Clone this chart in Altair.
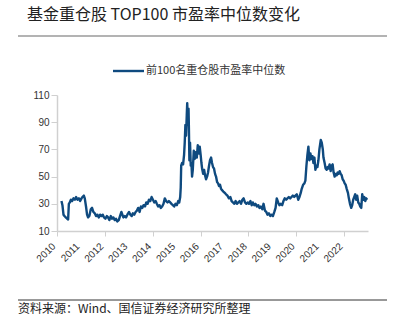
import altair as alt
import pandas as pd

title_text = "基金重仓股 TOP100 市盈率中位数变化"
legend_text = "前100名重仓股市盈率中位数"
source_text = "资料来源：Wind、国信证券经济研究所整理"
year_ticks = [f"{y}-01-01" for y in range(2010, 2024)]
year_labels = [str(y) for y in range(2010, 2023)]
y_ticks = [10, 30, 50, 70, 90, 110]

dates = [
    "2010-03-10","2010-03-25","2010-04-10","2010-04-25","2010-05-15","2010-06-05","2010-06-20","2010-07-01","2010-07-15","2010-08-01","2010-08-20","2010-09-10","2010-10-01","2010-10-20","2010-11-10","2010-12-01","2010-12-20",
    "2011-01-10","2011-01-25","2011-02-15","2011-03-01","2011-03-20","2011-04-05","2011-04-20","2011-05-10","2011-06-01","2011-06-20","2011-07-10","2011-08-01","2011-08-20","2011-09-10","2011-10-01","2011-10-20","2011-11-10","2011-12-01","2011-12-20",
    "2012-01-10","2012-02-01","2012-02-20","2012-03-10","2012-04-01","2012-04-20","2012-05-10","2012-06-01","2012-06-20","2012-07-10","2012-08-01","2012-08-20","2012-09-10","2012-09-25","2012-10-10","2012-11-01","2012-11-20","2012-12-10",
    "2013-01-05","2013-01-25","2013-02-15","2013-03-05","2013-03-25","2013-04-15","2013-05-05","2013-05-25","2013-06-15","2013-07-05","2013-07-25","2013-08-15","2013-09-05","2013-09-25","2013-10-15","2013-11-05","2013-11-25","2013-12-15",
    "2014-01-05","2014-01-25","2014-02-15","2014-03-05","2014-03-25","2014-04-15","2014-05-05","2014-05-25","2014-06-15","2014-07-05","2014-07-25","2014-08-15","2014-09-05","2014-09-25","2014-10-15","2014-11-05","2014-11-25","2014-12-15",
    "2015-01-05","2015-01-25","2015-02-10","2015-02-25","2015-03-05","2015-03-12","2015-03-25","2015-04-10","2015-04-25","2015-05-05","2015-05-15","2015-05-25","2015-06-05","2015-06-12","2015-06-18","2015-06-25","2015-07-02","2015-07-08","2015-07-15","2015-07-25","2015-08-05","2015-08-15","2015-08-25","2015-09-05","2015-09-20","2015-10-05","2015-10-20","2015-11-05","2015-11-20","2015-12-05","2015-12-20",
    "2016-01-05","2016-01-15","2016-01-25","2016-02-10","2016-02-25","2016-03-10","2016-03-25","2016-04-10","2016-04-25","2016-05-10","2016-05-25","2016-06-10","2016-06-25","2016-07-10","2016-07-25","2016-08-10","2016-08-25","2016-09-10","2016-09-25","2016-10-10","2016-10-25","2016-11-10","2016-11-25","2016-12-15",
    "2017-01-05","2017-01-25","2017-02-15","2017-03-10","2017-04-01","2017-04-20","2017-05-10","2017-06-01","2017-06-20","2017-07-10","2017-08-01","2017-08-20","2017-09-10","2017-10-01","2017-10-20","2017-11-10","2017-12-01","2017-12-20",
    "2018-01-10","2018-02-01","2018-02-20","2018-03-10","2018-04-01","2018-04-20","2018-05-10","2018-06-01","2018-06-20","2018-07-10","2018-08-01","2018-08-20","2018-09-10","2018-10-01","2018-10-20","2018-11-10","2018-12-01","2018-12-20",
    "2019-01-10","2019-02-01","2019-02-20","2019-03-10","2019-04-01","2019-04-20","2019-05-10","2019-06-01","2019-06-20","2019-07-10","2019-08-01","2019-08-20","2019-09-10","2019-10-01","2019-10-20","2019-11-10","2019-12-01","2019-12-20",
    "2020-01-10","2020-02-01","2020-02-20","2020-03-10","2020-03-25","2020-04-15","2020-05-05","2020-05-20","2020-06-05","2020-06-20","2020-07-05","2020-07-20","2020-08-05","2020-08-20","2020-09-05","2020-09-20","2020-10-05","2020-10-20","2020-11-05","2020-11-20","2020-12-05","2020-12-20",
    "2021-01-10","2021-01-25","2021-02-10","2021-02-20","2021-03-10","2021-03-25","2021-04-10","2021-04-25","2021-05-10","2021-05-25","2021-06-10","2021-06-25","2021-07-10","2021-07-25","2021-08-10","2021-08-25","2021-09-10","2021-09-25","2021-10-10","2021-10-25","2021-11-10","2021-11-25","2021-12-10","2021-12-25",
    "2022-01-10","2022-01-25","2022-02-10","2022-03-01","2022-03-15","2022-04-01","2022-04-20","2022-05-05","2022-05-20","2022-06-05","2022-06-20","2022-07-05","2022-07-20","2022-08-05","2022-08-20","2022-09-05","2022-09-20","2022-10-05","2022-10-20","2022-11-05","2022-11-20","2022-12-05","2022-12-20",
]
values = [
    32,29,22,21,20,19,18.5,30,31,33,32,34,33,35,33,34,32,
    34,35,36,34,28,22,20,21,26,27,24,23,21,22,20,22,21,22,20,
    19,21,20,18,21,19,20,18,19,17,18,21,24,22,20,21,20,22,
    24,22,21,23,22,24,25,27,24,28,27,29,28,31,30,33,32,35,
    33,31,32,30,28,29,27,28,30,34,32,31,32,31,30,29,28,30,
    29,32,31,35,42,58,60,59,66,75,88,80,95,104,96,88,100,85,62,75,58,60,50,55,69,63,68,64,73,67,72,
    65,60,56,52,55,51,48,50,53,58,62,64,60,57,56,52,50,46,45,43,44,41,40,39,
    38,37,36,34,35,32,31,30,32,30,31,32,30,33,34,31,30,31,
    30,32,29,31,29,30,28,29,27,28,26,30,25,24,22,23,21,22,
    21,24,27,34,31,29,30,29,32,34,33,34,35,34,35,36,35,36,
    37,33,35,38,41,44,45,47,58,66,72,62,67,63,65,60,64,55,58,57,62,70,
    77,75,70,64,60,56,55,57,56,59,54,58,59,53,50,52,51,53,52,54,52,51,48,47,
    45,44,41,38,34,30,27,29,33,35,37,33,36,31,30,28,27,37,33,35,32,34,33,
]

df = pd.DataFrame({"date": pd.to_datetime(dates), "pe": values})
lab_df = pd.DataFrame({"date": pd.to_datetime([f"{y}-01-01" for y in year_labels]),
                       "label": year_labels})

W, H = 311, 136
PL, PT = 57, 95
CJK = "Noto Sans CJK SC"
NUM = "Liberation Sans"
xscale = alt.Scale(domain=["2010-01-01", "2023-01-01"], nice=False)

line = alt.Chart(df).mark_line(color="#0f4a7f", strokeWidth=2.4, strokeJoin="round").encode(
    x=alt.X("date:T", scale=xscale,
            axis=alt.Axis(values=year_ticks, title=None, grid=False, labels=False,
                          tickSize=5, tickColor="#d0d0d0",
                          domainColor="#d0d0d0", domainWidth=1.5)),
    y=alt.Y("pe:Q",
            scale=alt.Scale(domain=[10, 110], nice=False, zero=False),
            axis=alt.Axis(values=y_ticks, title=None, grid=False,
                          labelFont=NUM, labelFontSize=10, labelColor="#333333",
                          labelPadding=2, tickSize=6, tickColor="#d0d0d0",
                          domainColor="#d0d0d0", domainWidth=1.5)),
)

xlabels = alt.Chart(lab_df).mark_text(
    angle=315, align="right", baseline="middle", font=NUM, fontSize=10,
    color="#333333", dx=-4
).encode(x=alt.X("date:T", scale=xscale), y=alt.value(H + 11), text="label:N")

def txt(s, x, y, size, font, color="#222222", align="left"):
    return alt.Chart(pd.DataFrame({"t": [s]})).mark_text(
        align=align, baseline="middle", font=font, fontSize=size, color=color
    ).encode(text="t:N", x=alt.value(x), y=alt.value(y))

def rule(x1, x2, y, color, width):
    return alt.Chart(pd.DataFrame({"a": [0]})).mark_rule(color=color, strokeWidth=width).encode(
        x=alt.value(x1), x2=alt.value(x2), y=alt.value(y))

title = txt(title_text, 27 - PL, 15 - PT, 16, CJK, "#222222")
top_rule = rule(18 - PL, 387 - PL, 36 - PT, "#9a9a9a", 1.5)
leg_line = alt.Chart(pd.DataFrame({"a": [0]})).mark_rule(color="#0f4a7f", strokeWidth=2.4).encode(
    x=alt.value(113 - PL), x2=alt.value(144 - PL), y=alt.value(71 - PT))
leg_text = txt(legend_text, 146 - PL, 71 - PT, 11, CJK, "#333333")
bot_rule = rule(18 - PL, 387 - PL, 300 - PT, "#333333", 1)
source = txt(source_text, 18 - PL, 309 - PT, 12, CJK, "#222222")

chart = alt.layer(line, xlabels, title, top_rule, leg_line, leg_text, bot_rule, source).properties(
    width=W, height=H,
    background="white",
    autosize=alt.AutoSizeParams(type="none"),
    padding={"left": PL, "top": PT, "right": 402 - PL - W, "bottom": 321 - PT - H},
).configure_view(stroke=None)

chart.save("out.html", embed_options={"renderer": "svg", "actions": False})
